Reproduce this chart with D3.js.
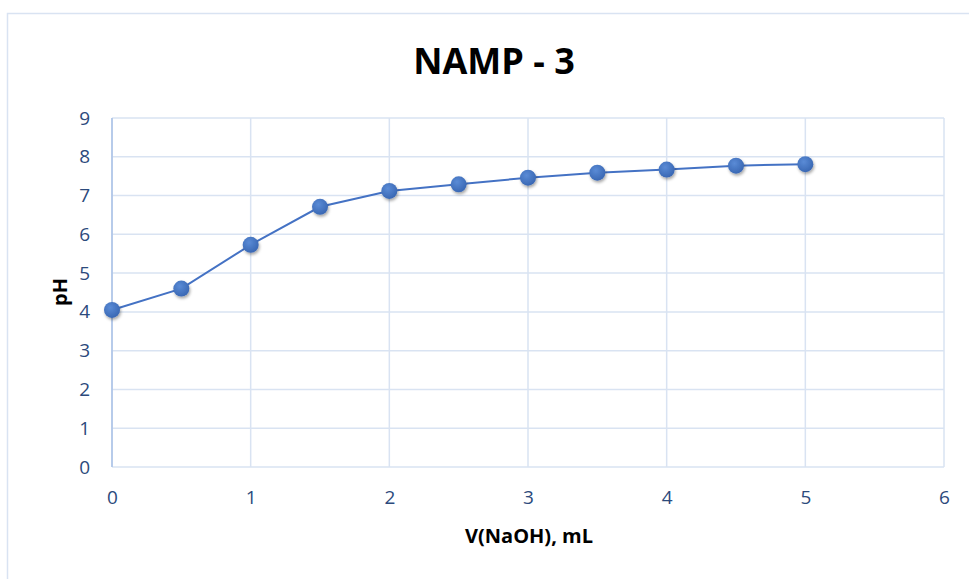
<!DOCTYPE html>
<html>
<head>
<meta charset="utf-8">
<script src="https://cdn.jsdelivr.net/npm/d3@7"></script>
<style>
  html, body { margin: 0; padding: 0; background: #fff; }
  svg { display: block; }
</style>
</head>
<body>
<svg id="chart" width="969" height="579"></svg>
<script>
// Titration curve: NaOH volume added vs. measured pH
const volumes = [0, 0.5, 1, 1.5, 2, 2.5, 3, 3.5, 4, 4.5, 5];
const phValues = [4.05, 4.60, 5.73, 6.71, 7.12, 7.29, 7.46, 7.59, 7.67, 7.77, 7.81];
const xTicks = [0, 1, 2, 3, 4, 5, 6];
const yTicks = [0, 1, 2, 3, 4, 5, 6, 7, 8, 9];
const titleText = "NAMP - 3";
const xLabel = "V(NaOH), mL";
const yLabel = "pH";

const svg = d3.select("#chart");
const W = 969, H = 579;
const plot = { left: 112, right: 944, top: 118, bottom: 467 };
const font = "Open Sans, Liberation Sans, sans-serif";
const gridColor = "#d9e3f2";
const tickColor = "#2c4a7c";
const seriesColor = "#4472c4";

// Chart area border
svg.append("rect")
  .attr("x", 7.5).attr("y", 13.5)
  .attr("width", W + 10).attr("height", H + 10)
  .attr("fill", "#fff")
  .attr("stroke", gridColor).attr("stroke-width", 1.5);

const x = d3.scaleLinear().domain([0, 6]).range([plot.left, plot.right]);
const y = d3.scaleLinear().domain([0, 9]).range([plot.bottom, plot.top]);

// Gridlines
const grid = svg.append("g");
grid.selectAll("line.h").data(yTicks).join("line")
  .attr("x1", plot.left).attr("x2", plot.right)
  .attr("y1", d => y(d)).attr("y2", d => y(d))
  .attr("stroke", gridColor).attr("stroke-width", 1.5);
grid.selectAll("line.v").data(xTicks).join("line")
  .attr("y1", plot.top).attr("y2", plot.bottom)
  .attr("x1", d => x(d)).attr("x2", d => x(d))
  .attr("stroke", gridColor).attr("stroke-width", 1.5);

// Vertical axis line
svg.append("line")
  .attr("x1", x(0)).attr("x2", x(0))
  .attr("y1", plot.top).attr("y2", plot.bottom)
  .attr("stroke", "#a9c1e6").attr("stroke-width", 1.5);

// Axes (labels only; lines handled by grid)
const xAxis = svg.append("g")
  .attr("transform", `translate(0,${plot.bottom})`)
  .call(d3.axisBottom(x).tickValues(xTicks).tickSize(0).tickPadding(24).tickFormat(d3.format("d")));
const yAxis = svg.append("g")
  .attr("transform", `translate(${plot.left},0)`)
  .call(d3.axisLeft(y).tickValues(yTicks).tickSize(0).tickPadding(22).tickFormat(d3.format("d")));
[xAxis, yAxis].forEach(g => {
  g.select(".domain").remove();
  g.selectAll("text")
    .attr("fill", tickColor)
    .style("font-family", font)
    .style("font-size", "19px");
});

// Marker shadow
const defs = svg.append("defs");
const f = defs.append("filter").attr("id", "shadow")
  .attr("x", "-50%").attr("y", "-50%").attr("width", "200%").attr("height", "200%");
f.append("feDropShadow").attr("dx", 1).attr("dy", 2).attr("stdDeviation", 1.6)
  .attr("flood-color", "#000").attr("flood-opacity", 0.35);
const g2 = defs.append("radialGradient").attr("id", "dot")
  .attr("cx", "40%").attr("cy", "35%").attr("r", "65%");
g2.append("stop").attr("offset", "0%").attr("stop-color", "#5a8bd6");
g2.append("stop").attr("offset", "100%").attr("stop-color", "#3a68b4");

const pts = volumes.map((v, i) => [v, phValues[i]]);

svg.append("path")
  .datum(pts)
  .attr("fill", "none")
  .attr("stroke", seriesColor)
  .attr("stroke-width", 2)
  .attr("d", d3.line().x(d => x(d[0])).y(d => y(d[1])));

svg.append("g").selectAll("circle").data(pts).join("circle")
  .attr("cx", d => x(d[0])).attr("cy", d => y(d[1]))
  .attr("r", 8)
  .attr("fill", "url(#dot)")
  .attr("filter", "url(#shadow)");

// Titles
svg.append("text")
  .attr("x", 494).attr("y", 74)
  .attr("text-anchor", "middle")
  .style("font-family", font).style("font-weight", "bold").style("font-size", "36px")
  .attr("fill", "#000")
  .text(titleText);

svg.append("text")
  .attr("x", 529).attr("y", 543)
  .attr("text-anchor", "middle")
  .style("font-family", font).style("font-weight", "bold").style("font-size", "20px")
  .attr("fill", "#000")
  .text(xLabel);

svg.append("text")
  .attr("transform", `translate(67,${292}) rotate(-90)`)
  .attr("text-anchor", "middle")
  .style("font-family", font).style("font-weight", "bold").style("font-size", "20px")
  .attr("fill", "#000")
  .text(yLabel);
</script>
</body>
</html>
